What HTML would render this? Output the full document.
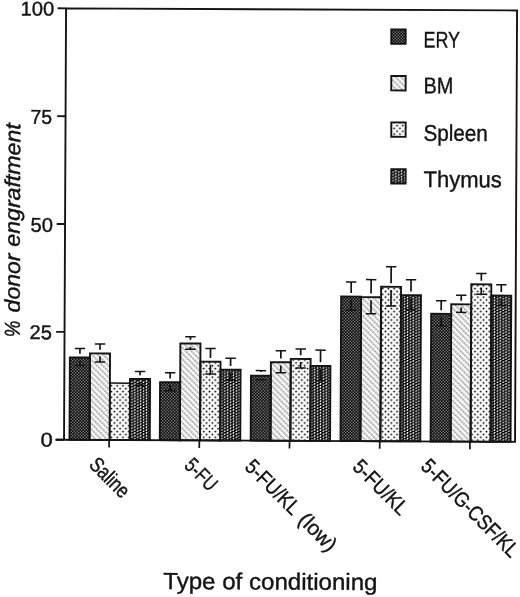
<!DOCTYPE html>
<html><head><meta charset="utf-8"><title>Donor engraftment by type of conditioning</title>
<style>
html,body{margin:0;padding:0;background:#fff;}
body{width:520px;height:597px;overflow:hidden;}
svg{display:block;filter:grayscale(1) blur(0.35px);will-change:transform;}
text{font-family:"Liberation Sans",Arial,Helvetica,sans-serif;fill:#141414;stroke:#141414;stroke-width:0.4px;}
</style></head><body>
<svg width="520" height="597" viewBox="0 0 520 597">
<defs>
<pattern id="ery" width="3" height="3" patternUnits="userSpaceOnUse" patternTransform="rotate(-0.27 260 298.5)">
<rect width="3" height="3" fill="#070707"/><rect x="0.1" y="0.1" width="1.3" height="1.3" fill="#8c8c8c"/><rect x="1.6" y="1.6" width="1.3" height="1.3" fill="#8c8c8c"/>
</pattern>
<pattern id="bm" width="4.07" height="3" patternUnits="userSpaceOnUse" patternTransform="rotate(-45)">
<rect width="4.07" height="3" fill="#fbfbfb"/><rect x="0" y="0" width="2" height="1.5" fill="#a9a9a9"/><rect x="0" y="1.5" width="2" height="1.5" fill="#cfcfcf"/>
</pattern>
<pattern id="spl" x="0.36" y="1.02" width="5.77" height="5.72" patternUnits="userSpaceOnUse" patternTransform="rotate(-0.27 260 298.5)">
<rect width="5.77" height="5.72" fill="#fdfdfd"/><rect x="0.6" y="0.6" width="1.7" height="1.7" rx="0.4" fill="#000"/><rect x="3.48" y="3.46" width="1.7" height="1.7" rx="0.4" fill="#000"/>
</pattern>
<pattern id="thy" width="5.8" height="2.88" patternUnits="userSpaceOnUse" patternTransform="rotate(-0.27 260 298.5)">
<rect width="5.8" height="2.88" fill="#080808"/><path d="M1.2 1.25 L1.7 0.35 M4.1 2.69 L4.6 1.79" stroke="#ffffff" stroke-width="1.3" stroke-linecap="round"/>
</pattern>
</defs>
<rect width="520" height="597" fill="#ffffff"/>
<g transform="rotate(0.27 260 298.5)">
<rect x="70.15" y="358.35" width="20.07" height="82.30" fill="url(#ery)"/>
<rect x="90.23" y="354.15" width="20.07" height="86.50" fill="url(#bm)"/>
<rect x="110.30" y="383.95" width="20.07" height="56.70" fill="url(#spl)"/>
<rect x="130.38" y="379.55" width="20.07" height="61.10" fill="url(#thy)"/>
<rect x="160.45" y="382.65" width="20.12" height="58.00" fill="url(#ery)"/>
<rect x="180.57" y="343.85" width="20.12" height="96.80" fill="url(#bm)"/>
<rect x="200.70" y="361.95" width="20.12" height="78.70" fill="url(#spl)"/>
<rect x="220.82" y="369.85" width="20.12" height="70.80" fill="url(#thy)"/>
<rect x="251.35" y="375.65" width="19.85" height="65.00" fill="url(#ery)"/>
<rect x="271.20" y="362.15" width="19.85" height="78.50" fill="url(#bm)"/>
<rect x="291.05" y="358.70" width="19.85" height="81.95" fill="url(#spl)"/>
<rect x="310.90" y="365.60" width="19.85" height="75.05" fill="url(#thy)"/>
<rect x="341.15" y="296.15" width="19.95" height="144.50" fill="url(#ery)"/>
<rect x="361.10" y="296.65" width="19.95" height="144.00" fill="url(#bm)"/>
<rect x="381.05" y="286.25" width="19.95" height="154.40" fill="url(#spl)"/>
<rect x="401.00" y="294.45" width="19.95" height="146.20" fill="url(#thy)"/>
<rect x="431.25" y="312.95" width="20.00" height="127.70" fill="url(#ery)"/>
<rect x="451.25" y="303.35" width="20.00" height="137.30" fill="url(#bm)"/>
<rect x="471.25" y="283.25" width="20.00" height="157.40" fill="url(#spl)"/>
<rect x="491.25" y="294.45" width="20.00" height="146.20" fill="url(#thy)"/>
<rect x="110.30" y="383.75" width="20.07" height="56.90" fill="none" stroke="#141414" stroke-width="1.5"/>
<rect x="70.15" y="358.35" width="20.07" height="82.30" fill="none" stroke="#141414" stroke-width="1.9"/>
<rect x="90.23" y="354.15" width="20.07" height="86.50" fill="none" stroke="#141414" stroke-width="1.9"/>
<rect x="130.38" y="379.55" width="20.07" height="61.10" fill="none" stroke="#141414" stroke-width="1.9"/>
<rect x="200.70" y="361.95" width="20.12" height="78.70" fill="none" stroke="#141414" stroke-width="1.9"/>
<rect x="160.45" y="382.65" width="20.12" height="58.00" fill="none" stroke="#141414" stroke-width="1.9"/>
<rect x="180.57" y="343.85" width="20.12" height="96.80" fill="none" stroke="#141414" stroke-width="1.9"/>
<rect x="220.82" y="369.85" width="20.12" height="70.80" fill="none" stroke="#141414" stroke-width="1.9"/>
<rect x="291.05" y="358.70" width="19.85" height="81.95" fill="none" stroke="#141414" stroke-width="1.9"/>
<rect x="251.35" y="375.65" width="19.85" height="65.00" fill="none" stroke="#141414" stroke-width="1.9"/>
<rect x="271.20" y="362.15" width="19.85" height="78.50" fill="none" stroke="#141414" stroke-width="1.9"/>
<rect x="310.90" y="365.60" width="19.85" height="75.05" fill="none" stroke="#141414" stroke-width="1.9"/>
<rect x="381.05" y="286.25" width="19.95" height="154.40" fill="none" stroke="#141414" stroke-width="1.9"/>
<rect x="341.15" y="296.15" width="19.95" height="144.50" fill="none" stroke="#141414" stroke-width="1.9"/>
<rect x="361.10" y="296.65" width="19.95" height="144.00" fill="none" stroke="#141414" stroke-width="1.9"/>
<rect x="401.00" y="294.45" width="19.95" height="146.20" fill="none" stroke="#141414" stroke-width="1.9"/>
<rect x="471.25" y="283.25" width="20.00" height="157.40" fill="none" stroke="#141414" stroke-width="1.9"/>
<rect x="431.25" y="312.95" width="20.00" height="127.70" fill="none" stroke="#141414" stroke-width="1.9"/>
<rect x="451.25" y="303.35" width="20.00" height="137.30" fill="none" stroke="#141414" stroke-width="1.9"/>
<rect x="491.25" y="294.45" width="20.00" height="146.20" fill="none" stroke="#141414" stroke-width="1.9"/>
<path d="M74.99 349.40H85.39M74.99 366.40H85.39" stroke="#141414" stroke-width="1.5" fill="none"/>
<path d="M80.19 349.40V354.70M80.19 361.50V366.40" stroke="#141414" stroke-width="1.7" fill="none"/>
<path d="M95.06 344.70H105.46M95.06 362.70H105.46" stroke="#141414" stroke-width="1.5" fill="none"/>
<path d="M100.26 344.70V350.50M100.26 357.30V362.70" stroke="#141414" stroke-width="1.7" fill="none"/>
<path d="M135.21 372.10H145.61M135.21 386.10H145.61" stroke="#141414" stroke-width="1.5" fill="none"/>
<path d="M140.41 372.10V375.90M140.41 382.70V386.10" stroke="#141414" stroke-width="1.7" fill="none"/>
<path d="M165.31 373.20H175.71M165.31 391.20H175.71" stroke="#141414" stroke-width="1.5" fill="none"/>
<path d="M170.51 373.20V379.00M170.51 385.80V391.20" stroke="#141414" stroke-width="1.7" fill="none"/>
<path d="M185.44 337.15H195.84M185.44 349.65H195.84" stroke="#141414" stroke-width="1.5" fill="none"/>
<path d="M190.64 337.15V340.20M190.64 347.00V349.65" stroke="#141414" stroke-width="1.7" fill="none"/>
<path d="M205.56 348.80H215.96M205.56 374.20H215.96" stroke="#141414" stroke-width="1.5" fill="none"/>
<path d="M210.76 348.80V358.30M210.76 365.10V374.20" stroke="#141414" stroke-width="1.7" fill="none"/>
<path d="M225.69 358.40H236.09M225.69 380.40H236.09" stroke="#141414" stroke-width="1.5" fill="none"/>
<path d="M230.89 358.40V366.20M230.89 373.00V380.40" stroke="#141414" stroke-width="1.7" fill="none"/>
<path d="M256.07 370.60H266.47M256.07 379.80H266.47" stroke="#141414" stroke-width="1.5" fill="none"/>
<path d="M261.27 370.60V372.00M261.27 378.80V379.80" stroke="#141414" stroke-width="1.7" fill="none"/>
<path d="M275.93 350.70H286.32M275.93 372.70H286.32" stroke="#141414" stroke-width="1.5" fill="none"/>
<path d="M281.12 350.70V358.50M281.12 365.30V372.70" stroke="#141414" stroke-width="1.7" fill="none"/>
<path d="M295.77 348.75H306.17M295.77 367.75H306.17" stroke="#141414" stroke-width="1.5" fill="none"/>
<path d="M300.97 348.75V355.05M300.97 361.85V367.75" stroke="#141414" stroke-width="1.7" fill="none"/>
<path d="M315.62 349.85H326.02M315.62 380.45H326.02" stroke="#141414" stroke-width="1.5" fill="none"/>
<path d="M320.82 349.85V361.95M320.82 368.75V380.45" stroke="#141414" stroke-width="1.7" fill="none"/>
<path d="M345.93 281.60H356.32M345.93 309.80H356.32" stroke="#141414" stroke-width="1.5" fill="none"/>
<path d="M351.12 281.60V292.50M351.12 299.30V309.80" stroke="#141414" stroke-width="1.7" fill="none"/>
<path d="M365.88 279.10H376.27M365.88 313.30H376.27" stroke="#141414" stroke-width="1.5" fill="none"/>
<path d="M371.07 279.10V293.00M371.07 299.80V313.30" stroke="#141414" stroke-width="1.7" fill="none"/>
<path d="M385.82 266.20H396.22M385.82 305.40H396.22" stroke="#141414" stroke-width="1.5" fill="none"/>
<path d="M391.02 266.20V282.60M391.02 289.40V305.40" stroke="#141414" stroke-width="1.7" fill="none"/>
<path d="M405.77 279.00H416.17M405.77 309.00H416.17" stroke="#141414" stroke-width="1.5" fill="none"/>
<path d="M410.97 279.00V290.80M410.97 297.60V309.00" stroke="#141414" stroke-width="1.7" fill="none"/>
<path d="M436.05 299.80H446.45M436.05 325.20H446.45" stroke="#141414" stroke-width="1.5" fill="none"/>
<path d="M441.25 299.80V309.30M441.25 316.10V325.20" stroke="#141414" stroke-width="1.7" fill="none"/>
<path d="M456.05 294.35H466.45M456.05 311.45H466.45" stroke="#141414" stroke-width="1.5" fill="none"/>
<path d="M461.25 294.35V299.70M461.25 306.50V311.45" stroke="#141414" stroke-width="1.7" fill="none"/>
<path d="M476.05 272.40H486.45M476.05 293.20H486.45" stroke="#141414" stroke-width="1.5" fill="none"/>
<path d="M481.25 272.40V279.60M481.25 286.40V293.20" stroke="#141414" stroke-width="1.7" fill="none"/>
<path d="M496.05 283.60H506.45M496.05 304.40H506.45" stroke="#141414" stroke-width="1.5" fill="none"/>
<path d="M501.25 283.60V290.80M501.25 297.60V304.40" stroke="#141414" stroke-width="1.7" fill="none"/>
<path d="M64.7 440.65V9.25H515.7V440.65" fill="none" stroke="#141414" stroke-width="1.9" stroke-linejoin="miter"/>
<path d="M56.300000000000004 440.65H516.6500000000001" fill="none" stroke="#141414" stroke-width="1.9"/>
<path d="M56.30 440.65H64.7" stroke="#141414" stroke-width="1.9"/>
<path d="M56.30 332.80H64.7" stroke="#141414" stroke-width="1.9"/>
<path d="M56.30 224.95H64.7" stroke="#141414" stroke-width="1.9"/>
<path d="M56.30 117.10H64.7" stroke="#141414" stroke-width="1.9"/>
<path d="M56.30 9.25H64.7" stroke="#141414" stroke-width="1.9"/>
<path d="M109.80 440.65V448.25" stroke="#141414" stroke-width="1.7"/>
<path d="M200.00 440.65V448.25" stroke="#141414" stroke-width="1.7"/>
<path d="M290.20 440.65V448.25" stroke="#141414" stroke-width="1.7"/>
<path d="M380.40 440.65V448.25" stroke="#141414" stroke-width="1.7"/>
<path d="M470.60 440.65V448.25" stroke="#141414" stroke-width="1.7"/>
</g>
<text transform="translate(20.5 15.5) rotate(0.27)" font-size="19.9" text-anchor="start" textLength="33.6" lengthAdjust="spacingAndGlyphs">100</text>
<text transform="translate(30.4 123.8) rotate(0.27)" font-size="19.9" text-anchor="start" textLength="21.6" lengthAdjust="spacingAndGlyphs">75</text>
<text transform="translate(30.6 231.8) rotate(0.27)" font-size="19.9" text-anchor="start" textLength="22.4" lengthAdjust="spacingAndGlyphs">50</text>
<text transform="translate(29.6 339.1) rotate(0.27)" font-size="19.9" text-anchor="start" textLength="22.3" lengthAdjust="spacingAndGlyphs">25</text>
<text transform="translate(40.6 446.6) rotate(0.27)" font-size="19.9" text-anchor="start" textLength="12.2" lengthAdjust="spacingAndGlyphs">0</text>
<text transform="translate(19.7 337.2) rotate(-89.73)" font-size="21.6" font-style="italic" textLength="16.6" lengthAdjust="spacingAndGlyphs">%</text>
<text transform="translate(19.7 312.4) rotate(-89.73)" font-size="21.6" font-style="italic" textLength="58.8" lengthAdjust="spacingAndGlyphs">donor</text>
<text transform="translate(19.7 246.7) rotate(-89.73)" font-size="21.6" font-style="italic" textLength="123.4" lengthAdjust="spacingAndGlyphs">engraftment</text>
<text transform="translate(87.9 465.7) rotate(45)" font-size="21" textLength="47.5" lengthAdjust="spacingAndGlyphs">Saline</text>
<text transform="translate(183.3 466.5) rotate(45)" font-size="21" textLength="36.5" lengthAdjust="spacingAndGlyphs">5-FU</text>
<text transform="translate(243.8 468.0) rotate(45)" font-size="21" textLength="68" lengthAdjust="spacingAndGlyphs">5-FU/KL</text>
<text transform="translate(243.8 468.0) rotate(45)" x="75.3" font-size="21" textLength="44.7" lengthAdjust="spacingAndGlyphs">(low)</text>
<text transform="translate(351.6 468.0) rotate(45)" font-size="21" textLength="68.5" lengthAdjust="spacingAndGlyphs">5-FU/KL</text>
<text transform="translate(419.8 467.6) rotate(45)" font-size="21" textLength="128.6" lengthAdjust="spacingAndGlyphs">5-FU/G-CSF/KL</text>
<text transform="translate(163.3 589.0) rotate(0.27)" font-size="23.2" text-anchor="start" textLength="214.2" lengthAdjust="spacingAndGlyphs">Type of conditioning</text>
<rect transform="rotate(0.27 260 298.5)" x="390.03" y="28.78" width="14.4" height="14.4" fill="url(#ery)" stroke="#141414" stroke-width="1.9"/>
<text transform="translate(423.5 47.4) rotate(0.27)" font-size="22.7" text-anchor="start" textLength="36.4" lengthAdjust="spacingAndGlyphs">ERY</text>
<rect transform="rotate(0.27 260 298.5)" x="390.25" y="75.38" width="14.4" height="14.4" fill="url(#bm)" stroke="#141414" stroke-width="1.9"/>
<text transform="translate(423.5 93.3) rotate(0.27)" font-size="22.7" text-anchor="start" textLength="29.8" lengthAdjust="spacingAndGlyphs">BM</text>
<rect transform="rotate(0.27 260 298.5)" x="390.47" y="121.78" width="14.4" height="14.4" fill="url(#spl)" stroke="#141414" stroke-width="1.9"/>
<text transform="translate(423.5 140.70000000000002) rotate(0.27)" font-size="22.7" text-anchor="start" textLength="64.3" lengthAdjust="spacingAndGlyphs">Spleen</text>
<rect transform="rotate(0.27 260 298.5)" x="390.69" y="168.48" width="14.4" height="14.4" fill="url(#thy)" stroke="#141414" stroke-width="1.9"/>
<text transform="translate(423.5 187.0) rotate(0.27)" font-size="22.7" text-anchor="start" textLength="78.2" lengthAdjust="spacingAndGlyphs">Thymus</text>
</svg></body></html>
